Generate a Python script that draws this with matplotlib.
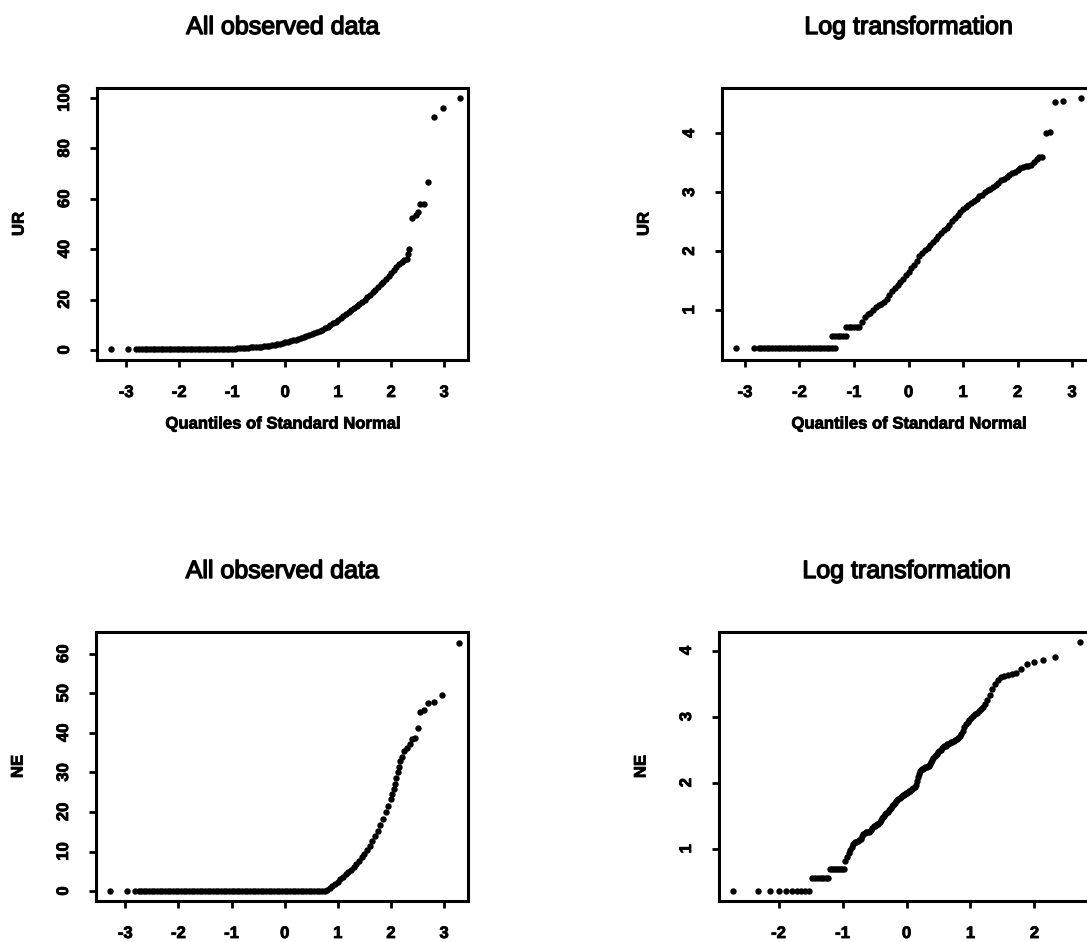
import numpy as np
import matplotlib
matplotlib.use("Agg")
import matplotlib.pyplot as plt
import matplotlib.patheffects as pe
from statistics import NormalDist

plt.rcParams['font.family'] = ['Liberation Sans', 'DejaVu Sans']
plt.rcParams['axes.unicode_minus'] = False

# ---- UR, raw values (normal quantile, value)
ur_x = [-3.29, -2.97, -2.81,
        -2.75, -2.70, -2.65, -2.60, -2.55, -2.50, -2.45, -2.40, -2.35, -2.30,
        -2.25, -2.20, -2.15, -2.10, -2.05, -2.00, -1.95, -1.90, -1.85, -1.80,
        -1.75, -1.70, -1.65, -1.60, -1.55,
        -1.50, -1.45, -1.40, -1.35, -1.30, -1.25, -1.20, -1.15, -1.10, -1.05,
        -1.00, -0.95, -0.90, -0.85, -0.80, -0.75, -0.70, -0.65, -0.60, -0.55,
        -0.5, -0.45, -0.4, -0.35, -0.3, -0.25, -0.2, -0.15, -0.1, -0.05, 0.0,
        0.05, 0.1, 0.15, 0.2, 0.25, 0.3, 0.35, 0.4, 0.45, 0.5,
        0.55, 0.6, 0.65, 0.7, 0.75, 0.8, 0.85, 0.9, 0.95, 1.0,
        1.05, 1.1, 1.15, 1.2, 1.25, 1.3, 1.35, 1.4, 1.45, 1.5,
        1.55, 1.6, 1.65, 1.7, 1.75, 1.8, 1.85, 1.9, 1.95, 2.0,
        2.05, 2.1, 2.15, 2.2, 2.25, 2.29, 2.31, 2.33,
        2.40, 2.46, 2.51, 2.55, 2.62, 2.70, 2.81, 2.97, 3.29]
ur_y = [0.2, 0.2, 0.2,
        0.2, 0.2, 0.2, 0.2, 0.2, 0.2, 0.2, 0.2, 0.2, 0.2,
        0.2, 0.2, 0.2, 0.2, 0.2, 0.2, 0.2, 0.2, 0.2, 0.2,
        0.2, 0.2, 0.2, 0.2, 0.2,
        0.2, 0.22, 0.25, 0.28, 0.3, 0.32, 0.35, 0.38, 0.4, 0.45,
        0.5, 0.55, 0.6, 0.68, 0.75, 0.82, 0.9, 0.98, 1.05, 1.12,
        1.2, 1.3, 1.45, 1.6, 1.75, 1.95, 2.15, 2.35, 2.55, 2.75, 3.0,
        3.25, 3.5, 3.8, 4.1, 4.4, 4.75, 5.1, 5.45, 5.85, 6.25,
        6.7, 7.15, 7.6, 8.1, 8.6, 9.2, 9.8, 10.5, 11.2, 12.0,
        12.7, 13.4, 14.1, 14.9, 15.7, 16.5, 17.3, 18.2, 19.1, 20.0,
        21.0, 21.9, 22.9, 23.9, 24.9, 26.0, 27.1, 28.2, 29.3, 30.5,
        31.7, 32.9, 34.0, 35.0, 35.6, 36.3, 38.2, 40.2,
        52.4, 53.4, 54.8, 57.9, 58.0, 66.5, 92.5, 96.0, 100.0]

# ---- log(UR)
lur_x = [-3.17, -2.84,
         -2.75, -2.70, -2.65, -2.60, -2.55, -2.50, -2.45, -2.40, -2.35, -2.30,
         -2.25, -2.20, -2.15, -2.10, -2.05, -2.00, -1.95, -1.90, -1.85, -1.80,
         -1.75, -1.70, -1.65, -1.60, -1.55, -1.50, -1.45, -1.40, -1.35,
         -1.40, -1.35, -1.30, -1.25, -1.20, -1.15,
         -1.15, -1.10, -1.05, -1.00, -0.95, -0.90,
         -0.85, -0.80, -0.75, -0.70, -0.65, -0.60, -0.55, -0.50, -0.45, -0.40,
         -0.35, -0.30, -0.25, -0.20, -0.15, -0.10, -0.05, 0.00, 0.05, 0.10,
         0.15, 0.20, 0.25, 0.30, 0.35, 0.40, 0.45, 0.50, 0.55, 0.60,
         0.65, 0.70, 0.75, 0.80, 0.85, 0.90, 0.95, 1.00, 1.05, 1.10,
         1.15, 1.20, 1.25, 1.30, 1.35, 1.40, 1.45, 1.50, 1.55, 1.60,
         1.65, 1.70, 1.75, 1.80, 1.85, 1.90, 1.95, 2.00, 2.05, 2.10,
         2.15, 2.20, 2.25, 2.30, 2.35, 2.40, 2.45,
         2.53, 2.59, 2.68, 2.84, 3.17]
lur_y = [0.35, 0.35,
         0.35, 0.35, 0.35, 0.35, 0.35, 0.35, 0.35, 0.35, 0.35, 0.35,
         0.35, 0.35, 0.35, 0.35, 0.35, 0.35, 0.35, 0.35, 0.35, 0.35,
         0.35, 0.35, 0.35, 0.35, 0.35, 0.35, 0.35, 0.35, 0.35,
         0.55, 0.55, 0.55, 0.55, 0.55, 0.55,
         0.71, 0.71, 0.71, 0.71, 0.71, 0.71,
         0.80, 0.88, 0.93, 0.95, 1.00, 1.05, 1.08, 1.10, 1.14, 1.19,
         1.26, 1.32, 1.37, 1.42, 1.48, 1.53, 1.59, 1.65, 1.71, 1.77,
         1.84, 1.91, 1.97, 2.02, 2.06, 2.10, 2.15, 2.20, 2.25, 2.30,
         2.35, 2.40, 2.45, 2.51, 2.57, 2.62, 2.67, 2.71, 2.75, 2.79,
         2.82, 2.85, 2.89, 2.93, 2.96, 3.00, 3.03, 3.06, 3.09, 3.12,
         3.16, 3.20, 3.23, 3.26, 3.29, 3.32, 3.35, 3.38, 3.41, 3.43,
         3.44, 3.45, 3.46, 3.52, 3.57, 3.59, 3.59,
         4.01, 4.02, 4.53, 4.55, 4.60]

# ---- NE, raw values
ne_x = [-3.29, -2.97, -2.81,
        -2.75, -2.70, -2.65, -2.60, -2.55, -2.50, -2.45, -2.40, -2.35, -2.30,
        -2.25, -2.20, -2.15, -2.10, -2.05, -2.00, -1.95, -1.90, -1.85, -1.80,
        -1.75, -1.70, -1.65, -1.60, -1.55, -1.50, -1.45, -1.40, -1.35, -1.30,
        -1.25, -1.20, -1.15, -1.10, -1.05, -1.00, -0.95, -0.90, -0.85, -0.80,
        -0.75, -0.70, -0.65, -0.60, -0.55, -0.50, -0.45, -0.40, -0.35, -0.30,
        -0.25, -0.20, -0.15, -0.10, -0.05, 0.00, 0.05, 0.10, 0.15, 0.20,
        0.25, 0.30, 0.35, 0.40, 0.45, 0.50, 0.55, 0.60, 0.65, 0.70,
        0.75, 0.80, 0.85, 0.90, 0.95, 1.00, 1.05, 1.10, 1.15, 1.20,
        1.25, 1.30, 1.35, 1.40, 1.45, 1.50, 1.55, 1.60, 1.65, 1.70,
        1.75, 1.80, 1.85, 1.90, 1.95, 2.00, 2.025, 2.05, 2.075, 2.10,
        2.125, 2.15, 2.175, 2.20, 2.25, 2.30, 2.35, 2.40,
        2.46, 2.51, 2.55, 2.62, 2.70, 2.81, 2.97, 3.29]
ne_y = [0.0, 0.0, 0.0,
        0.0, 0.0, 0.0, 0.0, 0.0, 0.0, 0.0, 0.0, 0.0, 0.0,
        0.0, 0.0, 0.0, 0.0, 0.0, 0.0, 0.0, 0.0, 0.0, 0.0,
        0.0, 0.0, 0.0, 0.0, 0.0, 0.0, 0.0, 0.0, 0.0, 0.0,
        0.0, 0.0, 0.0, 0.0, 0.0, 0.0, 0.0, 0.0, 0.0, 0.0,
        0.0, 0.0, 0.0, 0.0, 0.0, 0.0, 0.0, 0.0, 0.0, 0.0,
        0.0, 0.0, 0.0, 0.0, 0.0, 0.0, 0.0, 0.0, 0.0, 0.0,
        0.0, 0.0, 0.0, 0.0, 0.0, 0.0, 0.0, 0.0, 0.0, 0.0,
        0.1, 0.4, 0.8, 1.2, 1.8, 2.4, 3.0, 3.6, 4.2, 4.8,
        5.4, 6.1, 6.8, 7.6, 8.5, 9.4, 10.4, 11.5, 12.6, 13.9,
        15.3, 16.8, 18.3, 19.9, 21.5, 23.3, 24.5, 25.8, 27.2, 28.7,
        30.1, 31.5, 32.8, 34.0, 35.4, 36.3, 37.2, 38.4,
        38.8, 41.2, 45.2, 45.7, 47.6, 47.9, 49.5, 62.8]

# ---- log(NE): sorted observed values, one per case
lne_y = [0.36] * 10 + [0.56] * 7 + [0.70] * 8 + [
    0.81, 0.87, 0.93, 0.98, 1.03, 1.07, 1.10, 1.11, 1.12, 1.13,
    1.15, 1.19, 1.23, 1.24, 1.25, 1.25, 1.26, 1.27, 1.29, 1.32,
    1.34, 1.35, 1.36, 1.37, 1.38, 1.40, 1.43, 1.46, 1.48, 1.50,
    1.52, 1.54, 1.56, 1.58, 1.60, 1.62, 1.64, 1.66, 1.68, 1.70,
    1.72, 1.74, 1.75, 1.77, 1.78, 1.80, 1.81, 1.82, 1.83, 1.84,
    1.85, 1.86, 1.87, 1.88, 1.89, 1.90, 1.92, 1.94, 1.97, 2.02,
    2.08, 2.13, 2.17, 2.19, 2.20, 2.21, 2.22, 2.23, 2.24, 2.25,
    2.26, 2.28, 2.31, 2.34, 2.37, 2.40, 2.42, 2.44, 2.46, 2.48,
    2.50, 2.52, 2.54, 2.55, 2.56, 2.58, 2.59, 2.60, 2.61, 2.62,
    2.63, 2.65, 2.66, 2.68, 2.70, 2.73, 2.78, 2.85, 2.89, 2.92,
    2.95, 2.98, 3.01, 3.04, 3.06, 3.09, 3.12, 3.15, 3.19, 3.25,
    3.33, 3.42, 3.50, 3.56, 3.60, 3.62, 3.63, 3.64, 3.66, 3.72,
    3.80, 3.83, 3.86, 3.90, 4.13]
n_lne = len(lne_y)
# theoretical normal quantiles (i - 0.5)/n, as qqnorm does
lne_x = [NormalDist().inv_cdf((i - 0.5) / n_lne) for i in range(1, n_lne + 1)]

W, H = 1087, 942
fig = plt.figure(figsize=(W / 100, H / 100), dpi=100)

thick = [pe.withStroke(linewidth=0.6, foreground='black')]
heavy = [pe.withStroke(linewidth=1.0, foreground='black')]


def panel(box, x, y, xlim, ylim, xticks, yticks, title, ylabel, xlabel=None):
    left, top, right, bottom = box
    ax = fig.add_axes([left / W, 1 - bottom / H, (right - left) / W, (bottom - top) / H])
    ax.plot(x, y, 'o', color='black', ms=4.6, mec='none')
    ax.set_xlim(xlim)
    ax.set_ylim(ylim)
    ax.set_xticks(xticks)
    ax.set_yticks(yticks)
    ax.set_xticklabels([str(t) for t in xticks], fontsize=12, fontweight='bold')
    ax.set_yticklabels([str(t) for t in yticks], fontsize=12, fontweight='bold',
                       rotation=90, va='center')
    for t in ax.get_xticklabels() + ax.get_yticklabels():
        t.set_path_effects(thick)
    ax.tick_params(direction='out', length=5, width=2)
    ax.tick_params(axis='x', pad=13)
    ax.tick_params(axis='y', pad=13)
    for s in ax.spines.values():
        s.set_linewidth(2.2)
    h = bottom - top
    w = right - left
    ax.text(0.5, 1 + 61 / h, title, transform=ax.transAxes, ha='center', va='center',
            fontsize=18, path_effects=heavy)
    ax.set_ylabel(ylabel, fontsize=12, fontweight='bold', va='center', path_effects=thick)
    ax.yaxis.set_label_coords(-78 / w, 0.5)
    if xlabel:
        ax.set_xlabel(xlabel, fontsize=12, fontweight='bold', va='center',
                      path_effects=thick)
        ax.xaxis.set_label_coords(0.5, -64 / h)
    return ax


panel((97, 88, 468, 360), ur_x, ur_y, (-3.55, 3.45), (-4, 104),
      [-3, -2, -1, 0, 1, 2, 3], [0, 20, 40, 60, 80, 100],
      'All observed data', 'UR', 'Quantiles of Standard Normal')
panel((722, 88, 1095, 360), lur_x, lur_y, (-3.42, 3.42), (0.15, 4.77),
      [-3, -2, -1, 0, 1, 2, 3], [1, 2, 3, 4],
      'Log transformation', 'UR', 'Quantiles of Standard Normal')
panel((96, 632, 468, 901), ne_x, ne_y, (-3.55, 3.45), (-2.5, 65.5),
      [-3, -2, -1, 0, 1, 2, 3], [0, 10, 20, 30, 40, 50, 60],
      'All observed data', 'NE')
panel((719, 632, 1094, 901), lne_x, lne_y, (-2.93, 2.93), (0.21, 4.28),
      [-2, -1, 0, 1, 2], [1, 2, 3, 4],
      'Log transformation', 'NE')

fig.savefig('out.png', dpi=100)
